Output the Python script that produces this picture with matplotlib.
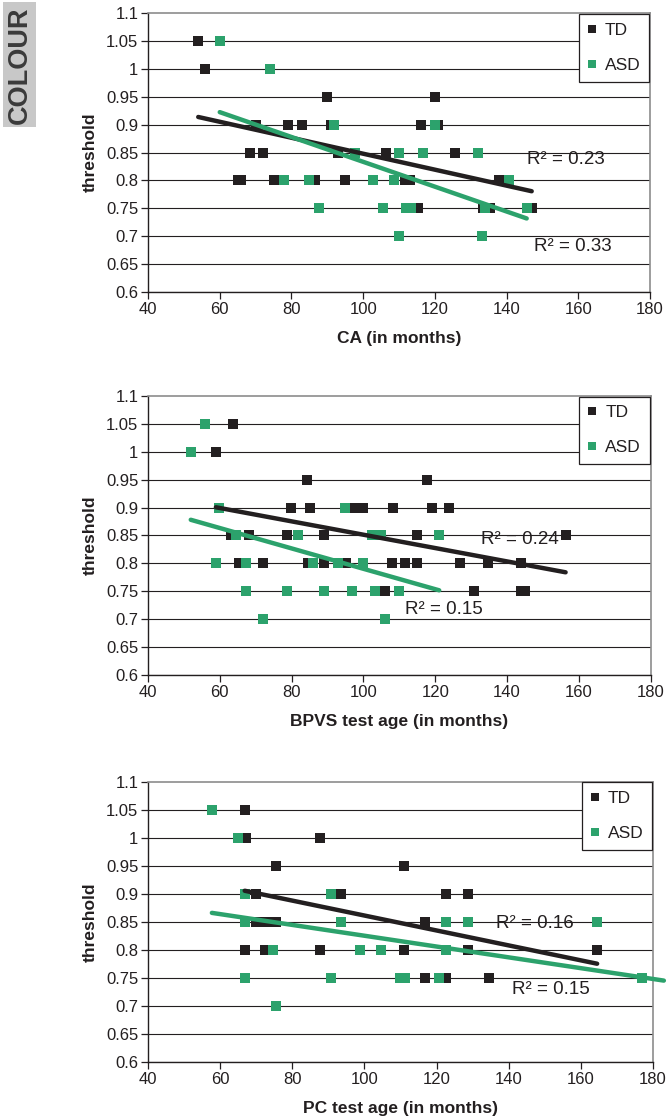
import numpy as np
import matplotlib
matplotlib.use("Agg")
import matplotlib.pyplot as plt
from matplotlib.ticker import FuncFormatter

plt.rcParams['font.family'] = ['Liberation Sans', 'DejaVu Sans']

# chronological age (months) vs threshold
ca_td_x = [54, 56, 90, 120, 70, 79, 83, 91, 116, 121, 68.5, 72, 93, 106.5, 125.7,
           65, 66, 75, 86.5, 95, 111.6, 113, 138, 115.3, 133.3, 135.3, 147]
ca_td_y = [1.05, 1.0, 0.95, 0.95, 0.9, 0.9, 0.9, 0.9, 0.9, 0.9, 0.85, 0.85, 0.85, 0.85, 0.85,
           0.8, 0.8, 0.8, 0.8, 0.8, 0.8, 0.8, 0.8, 0.75, 0.75, 0.75, 0.75]
ca_asd_x = [60, 74, 92, 120, 97.7, 110, 116.7, 131.9, 77.8, 84.8, 102.8, 108.6, 140.8,
            87.7, 105.6, 111.9, 113.3, 133.9, 145.6, 110, 133]
ca_asd_y = [1.05, 1.0, 0.9, 0.9, 0.85, 0.85, 0.85, 0.85, 0.8, 0.8, 0.8, 0.8, 0.8,
            0.75, 0.75, 0.75, 0.75, 0.75, 0.75, 0.7, 0.7]

# BPVS test age (months) vs threshold
bpvs_td_x = [63.7, 58.9, 84.2, 117.7,
             79.8, 85.1, 97.2, 99.8, 108.1, 119, 123.9,
             63.2, 68.1, 78.8, 89.0, 114.8, 156.3,
             65.4, 72.1, 84.6, 89.0, 95.1, 107.9, 111.6, 114.8, 126.9, 134.6, 143.9,
             106.0, 130.9, 143.9, 145.1]
bpvs_td_y = [1.05, 1.0, 0.95, 0.95,
             0.9, 0.9, 0.9, 0.9, 0.9, 0.9, 0.9,
             0.85, 0.85, 0.85, 0.85, 0.85, 0.85,
             0.8, 0.8, 0.8, 0.8, 0.8, 0.8, 0.8, 0.8, 0.8, 0.8, 0.8,
             0.75, 0.75, 0.75, 0.75]
bpvs_asd_x = [55.9, 51.9, 59.8, 94.9,
              64.6, 81.7, 102.3, 105.0, 121.1,
              58.9, 67.2, 86.0, 93.0, 99.8,
              67.2, 78.8, 89.0, 96.9, 103.2, 109.8,
              72.1, 106.0]
bpvs_asd_y = [1.05, 1.0, 0.9, 0.9,
              0.85, 0.85, 0.85, 0.85, 0.85,
              0.8, 0.8, 0.8, 0.8, 0.8,
              0.75, 0.75, 0.75, 0.75, 0.75, 0.75,
              0.7, 0.7]

# PC test age (months) vs threshold
pc_td_x = [67.0, 67.1, 87.7, 75.6, 110.9,
           69.9, 93.6, 122.5, 128.7,
           69.9, 72.8, 75.6, 116.7,
           66.8, 72.5, 87.8, 110.9, 128.7, 164.5,
           116.7, 122.7, 134.5]
pc_td_y = [1.05, 1.0, 1.0, 0.95, 0.95,
           0.9, 0.9, 0.9, 0.9,
           0.85, 0.85, 0.85, 0.85,
           0.8, 0.8, 0.8, 0.8, 0.8, 0.8,
           0.75, 0.75, 0.75]
pc_asd_x = [57.7, 65.0, 66.8, 90.7,
            66.8, 93.6, 122.5, 128.7, 164.5,
            74.7, 98.9, 104.7, 122.5,
            66.8, 90.7, 109.8, 111.2, 120.7, 177.0,
            75.6]
pc_asd_y = [1.05, 1.0, 0.9, 0.9,
            0.85, 0.85, 0.85, 0.85, 0.85,
            0.8, 0.8, 0.8, 0.8,
            0.75, 0.75, 0.75, 0.75, 0.75, 0.75,
            0.7]

INK = '#231f20'
GREEN = '#2ca26c'
FRAME = '#8c8c8c'

fig = plt.figure(figsize=(6.68, 11.19), dpi=100)


def panel(rect, td_x, td_y, asd_x, asd_y, xlabel, r2_td, r2_asd, asd_forward=0):
    ax = fig.add_axes(rect)
    ax.set_xlim(40, 180)
    ax.set_ylim(0.6, 1.1)
    ax.set_xticks(np.arange(40, 181, 20))
    ax.set_yticks(np.linspace(0.6, 1.1, 11))
    ax.yaxis.set_major_formatter(FuncFormatter(lambda v, p: f'{v:.2f}'.rstrip('0').rstrip('.')))
    ax.tick_params(direction='out', length=5, width=0.9, color=INK, labelcolor=INK,
                   labelsize=12, pad=2)
    ax.yaxis.grid(True, color=INK, lw=0.8)
    ax.yaxis.get_gridlines()[-1].set_visible(False)
    ax.set_axisbelow(True)
    for s in ('left', 'bottom'):
        ax.spines[s].set_color(INK)
        ax.spines[s].set_linewidth(1.0)
    for s in ('top', 'right'):
        ax.spines[s].set_color(FRAME)
        ax.spines[s].set_linewidth(1.2)

    ax.plot(td_x, td_y, 's', ms=7.5, mew=0, color=INK, label='TD', zorder=3)
    ax.plot(asd_x, asd_y, 's', ms=7.5, mew=0, color=GREEN, label='ASD', zorder=3)

    # linear trend lines
    k = np.polyfit(td_x, td_y, 1)
    xs = np.array([min(td_x), max(td_x)])
    ax.plot(xs, np.polyval(k, xs), color=INK, lw=3.2, solid_capstyle='round', zorder=4)
    k = np.polyfit(asd_x, asd_y, 1)
    xs = np.array([min(asd_x), max(asd_x) + asd_forward])
    ax.plot(xs, np.polyval(k, xs), color=GREEN, lw=3.2, solid_capstyle='round',
            zorder=4, clip_on=False)

    ax.text(r2_td[0], r2_td[1], r2_td[2], fontsize=13.5, color=INK, ha='left', va='center', zorder=5)
    ax.text(r2_asd[0], r2_asd[1], r2_asd[2], fontsize=13.5, color=INK, ha='left', va='center', zorder=5)

    leg = ax.legend(loc='upper right', fontsize=12.5, frameon=True, fancybox=False,
                    edgecolor=INK, framealpha=1, borderaxespad=0.05, handlelength=0.5,
                    handletextpad=0.5, markerscale=0.8, labelspacing=1.15, borderpad=0.5)
    leg.get_frame().set_linewidth(0.9)
    for t in leg.get_texts():
        t.set_color(INK)

    ax.set_xlabel(xlabel, fontsize=12.5, fontweight='bold', color=INK, labelpad=10)
    ax.set_ylabel('threshold', fontsize=12.5, fontweight='bold', color=INK, labelpad=6)
    return ax


panel([0.2216, 0.739, 0.7515, 0.2493], ca_td_x, ca_td_y, ca_asd_x, ca_asd_y,
      'CA (in months)', (145.6, 0.837, 'R² = 0.23'), (147.6, 0.682, 'R² = 0.33'))
panel([0.2216, 0.3965, 0.7525, 0.2499], bpvs_td_x, bpvs_td_y, bpvs_asd_x, bpvs_asd_y,
      'BPVS test age (in months)', (132.8, 0.842, 'R² = 0.24'), (111.6, 0.718, 'R² = 0.15'))
panel([0.2216, 0.0507, 0.756, 0.2508], pc_td_x, pc_td_y, pc_asd_x, pc_asd_y,
      'PC test age (in months)', (136.6, 0.848, 'R² = 0.16'), (141.0, 0.7305, 'R² = 0.15'),
      asd_forward=6)

fig.text(0.0292, 0.942, 'COLOUR', rotation=90, fontsize=19.5, fontweight='bold',
         color='#3a3a3a', ha='center', va='center',
         bbox=dict(facecolor='#c8c8c8', edgecolor='none', boxstyle='square,pad=0.14'))

fig.savefig('out.png', dpi=100)
